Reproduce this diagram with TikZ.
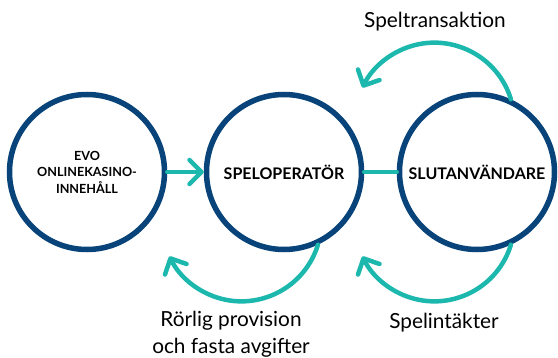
\documentclass[tikz,border=0pt]{standalone}
\usepackage{fontspec}
\setmainfont{Lato}
\usetikzlibrary{arrows.meta}
\definecolor{navy}{HTML}{08437A}
\definecolor{teal}{HTML}{1DB8AD}
\begin{document}
\begin{tikzpicture}[x=1pt,y=1pt,
  ring/.style={circle, draw=navy, line width=5.5pt, minimum size=155pt, inner sep=0pt, align=center, font=\bfseries},
  flow/.style={draw=teal, line width=4.5pt, line cap=round},
  tip/.style={-{Straight Barb[length=12pt,width=24pt,line cap=round,line join=round]}},
  lbl/.style={font=\fontsize{20.8}{27.5}\selectfont, align=center}]
\useasboundingbox (0,0) rectangle (558,357);
\node[ring, font=\bfseries\fontsize{12.6}{16.5}\selectfont] (c1) at (87,185) {EVO\\ONLINEKASINO-\\INNEHÅLL};
\node[ring, font=\bfseries\fontsize{16}{18}\selectfont] (c2) at (284,185) {SPELOPERATÖR};
\node[ring, font=\bfseries\fontsize{16}{18}\selectfont] (c3) at (477,185) {SLUTANVÄNDARE};
\draw[flow, tip] (c1.east) -- (c2.west);
\draw[flow] (c2.east) -- (c3.west);
\draw[flow, tip] (c3.65) arc[start angle=17, end angle=154, radius=80];
\draw[flow, tip] (c3.-65) arc[start angle=-17, end angle=-154, radius=80];
\draw[flow, tip] (c2.-65) arc[start angle=-17, end angle=-154, radius=80];
\node[lbl] (t1) at (435,335) {Speltransaktion};
\node[lbl] (t2) at (444,34) {Spelintäkter};
\node[lbl] (t3) at (231,23) {Rörlig provision\\och fasta avgifter};
\end{tikzpicture}
\end{document}
